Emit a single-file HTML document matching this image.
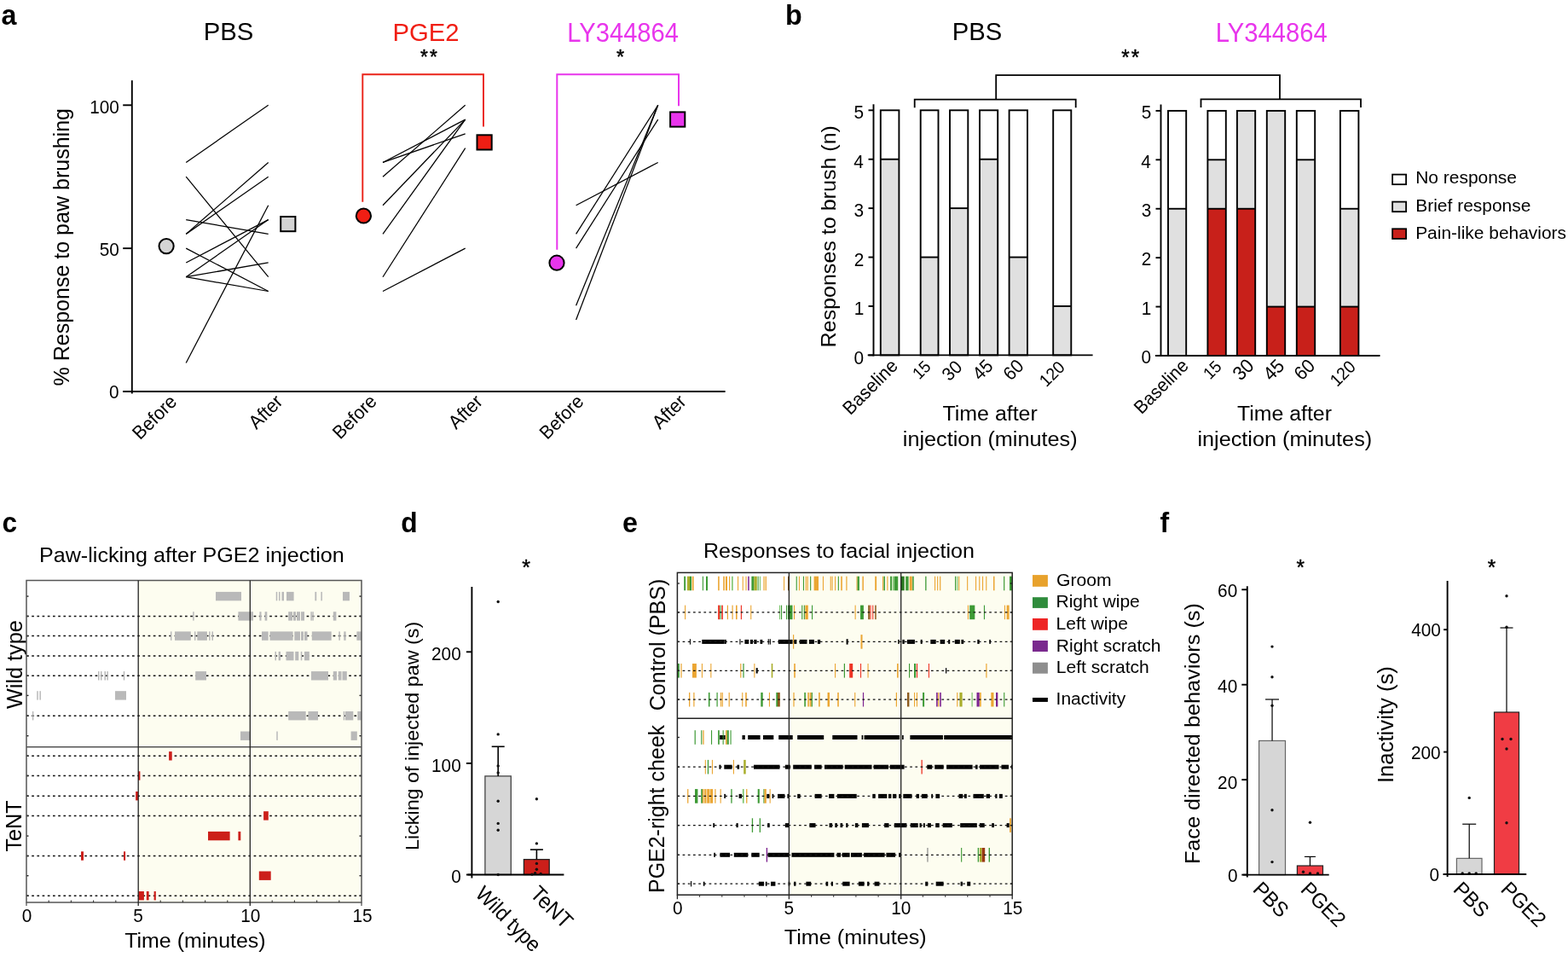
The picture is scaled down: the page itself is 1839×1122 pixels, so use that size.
<!DOCTYPE html>
<html><head><meta charset="utf-8"><title>Figure</title>
<style>
html,body{margin:0;padding:0;background:#fff;overflow:hidden;}
svg{display:block;}
svg text{font-family:'Liberation Sans', Arial, Helvetica, sans-serif;}
</style></head>
<body>
<svg width="1839" height="1122" viewBox="0 0 1839 1122">
<rect x="0" y="0" width="1839" height="1122" fill="#fff"/>
<text transform="translate(1.40 28.77) scale(1 1.050)" font-size="32.23" font-weight="bold">a</text>
<text transform="translate(921.05 28.85) scale(1 1.050)" font-size="32.27" font-weight="bold">b</text>
<text transform="translate(2.51 623.89) scale(1 1.050)" font-size="31.59" font-weight="bold">c</text>
<text transform="translate(470.29 623.95) scale(1 1.050)" font-size="31.73" font-weight="bold">d</text>
<text transform="translate(729.88 623.78) scale(1 1.050)" font-size="32.20" font-weight="bold">e</text>
<text transform="translate(1360.38 623.92) scale(1 1.050)" font-size="31.99" font-weight="bold">f</text>
<text transform="translate(238.71 47.40) scale(1 1.007)" font-size="29.30">PBS</text>
<text transform="translate(460.42 47.50) scale(1 1.008)" font-size="29.26" fill="#f01e14">PGE2</text>
<text transform="translate(665.23 48.55) scale(1 1.046)" font-size="29.17" fill="#e835ec">LY344864</text>
<text transform="translate(493.04 75.24) scale(1 1.050)" font-size="22.81" stroke="#000" stroke-width="0.45" stroke-linejoin="round" letter-spacing="2.2">**</text>
<text transform="translate(723.06 75.38) scale(1 1.050)" font-size="23.55" stroke="#000" stroke-width="0.45" stroke-linejoin="round">*</text>
<text transform="translate(105.23 132.95) scale(1 1.040)" font-size="20.80">100</text>
<text transform="translate(116.68 300.02) scale(1 1.040)" font-size="20.80">50</text>
<text transform="translate(128.10 467.00) scale(1 1.040)" font-size="20.80">0</text>
<text transform="translate(80.80 452.57) rotate(-90) scale(1 1.024)" font-size="25.04">% Response to paw brushing</text>
<text transform="translate(164.36 516.56) rotate(-45) scale(1 1.050)" font-size="21.28">Before</text>
<text transform="translate(399.05 515.91) rotate(-45) scale(1 1.050)" font-size="21.07">Before</text>
<text transform="translate(641.77 516.15) rotate(-45) scale(1 1.050)" font-size="21.11">Before</text>
<text transform="translate(300.79 504.31) rotate(-45) scale(1 1.050)" font-size="21.52">After</text>
<text transform="translate(535.09 504.31) rotate(-45) scale(1 1.050)" font-size="21.52">After</text>
<text transform="translate(773.95 504.30) rotate(-45) scale(1 1.050)" font-size="21.57">After</text>
<line x1="154.80" y1="94.30" x2="154.80" y2="461.50" stroke="#000" stroke-width="1.9"/>
<line x1="144.30" y1="459.00" x2="850.60" y2="459.00" stroke="#000" stroke-width="1.9"/>
<line x1="144.20" y1="123.30" x2="154.80" y2="123.30" stroke="#000" stroke-width="1.9"/>
<line x1="144.20" y1="291.15" x2="154.80" y2="291.15" stroke="#000" stroke-width="1.9"/>
<line x1="144.20" y1="459.00" x2="154.80" y2="459.00" stroke="#000" stroke-width="1.9"/>
<line x1="218.20" y1="190.44" x2="314.70" y2="123.30" stroke="#000" stroke-width="1.25"/>
<line x1="218.20" y1="207.22" x2="314.70" y2="324.72" stroke="#000" stroke-width="1.25"/>
<line x1="218.20" y1="274.37" x2="314.70" y2="190.44" stroke="#000" stroke-width="1.25"/>
<line x1="218.20" y1="274.37" x2="314.70" y2="207.22" stroke="#000" stroke-width="1.25"/>
<line x1="218.20" y1="257.58" x2="314.70" y2="274.37" stroke="#000" stroke-width="1.25"/>
<line x1="218.20" y1="291.15" x2="314.70" y2="341.50" stroke="#000" stroke-width="1.25"/>
<line x1="218.20" y1="307.94" x2="314.70" y2="257.58" stroke="#000" stroke-width="1.25"/>
<line x1="218.20" y1="324.72" x2="314.70" y2="257.58" stroke="#000" stroke-width="1.25"/>
<line x1="218.20" y1="324.72" x2="314.70" y2="307.94" stroke="#000" stroke-width="1.25"/>
<line x1="218.20" y1="324.72" x2="314.70" y2="341.50" stroke="#000" stroke-width="1.25"/>
<line x1="218.20" y1="425.43" x2="314.70" y2="240.79" stroke="#000" stroke-width="1.25"/>
<line x1="449.00" y1="190.44" x2="545.70" y2="140.08" stroke="#000" stroke-width="1.25"/>
<line x1="449.00" y1="190.44" x2="545.70" y2="156.87" stroke="#000" stroke-width="1.25"/>
<line x1="449.00" y1="207.22" x2="545.70" y2="123.30" stroke="#000" stroke-width="1.25"/>
<line x1="449.00" y1="240.79" x2="545.70" y2="140.08" stroke="#000" stroke-width="1.25"/>
<line x1="449.00" y1="274.37" x2="545.70" y2="140.08" stroke="#000" stroke-width="1.25"/>
<line x1="449.00" y1="324.72" x2="545.70" y2="173.65" stroke="#000" stroke-width="1.25"/>
<line x1="449.00" y1="341.50" x2="545.70" y2="291.15" stroke="#000" stroke-width="1.25"/>
<line x1="675.60" y1="240.79" x2="771.70" y2="190.44" stroke="#000" stroke-width="1.25"/>
<line x1="675.60" y1="274.37" x2="771.70" y2="123.30" stroke="#000" stroke-width="1.25"/>
<line x1="675.60" y1="291.15" x2="771.70" y2="140.08" stroke="#000" stroke-width="1.25"/>
<line x1="675.60" y1="358.29" x2="771.70" y2="123.30" stroke="#000" stroke-width="1.25"/>
<line x1="675.60" y1="375.07" x2="771.70" y2="123.30" stroke="#000" stroke-width="1.25"/>
<path d="M425.3,236.8 V87.2 H567 V148.4" stroke="#ea2218" stroke-width="1.9" fill="none"/>
<path d="M653.3,292.8 V87.2 H796 V124.3" stroke="#e835ec" stroke-width="2.0" fill="none"/>
<circle cx="195.1" cy="288.6" r="8.6" fill="#d4d4d4" stroke="#000" stroke-width="2"/>
<circle cx="426.4" cy="253" r="8.6" fill="#f01e14" stroke="#000" stroke-width="2"/>
<circle cx="653" cy="308.2" r="8.6" fill="#e835ec" stroke="#000" stroke-width="2"/>
<rect x="329.20" y="254.00" width="17.20" height="17.20" fill="#d4d4d4" stroke="#000" stroke-width="2"/>
<rect x="559.50" y="158.30" width="17.20" height="17.20" fill="#f01e14" stroke="#000" stroke-width="2"/>
<rect x="786.10" y="131.40" width="17.20" height="17.20" fill="#e835ec" stroke="#000" stroke-width="2"/>
<rect x="1032.80" y="186.72" width="21.60" height="229.68" fill="#e0e0e0"/>
<rect x="1032.80" y="129.30" width="21.60" height="57.42" fill="#ffffff"/>
<rect x="1032.80" y="129.30" width="21.60" height="287.10" fill="none" stroke="#000" stroke-width="1.9"/>
<line x1="1032.80" y1="186.72" x2="1054.40" y2="186.72" stroke="#000" stroke-width="1.9"/>
<rect x="1079.70" y="301.56" width="20.80" height="114.84" fill="#e0e0e0"/>
<rect x="1079.70" y="129.30" width="20.80" height="172.26" fill="#ffffff"/>
<rect x="1079.70" y="129.30" width="20.80" height="287.10" fill="none" stroke="#000" stroke-width="1.9"/>
<line x1="1079.70" y1="301.56" x2="1100.50" y2="301.56" stroke="#000" stroke-width="1.9"/>
<rect x="1114.00" y="244.14" width="21.30" height="172.26" fill="#e0e0e0"/>
<rect x="1114.00" y="129.30" width="21.30" height="114.84" fill="#ffffff"/>
<rect x="1114.00" y="129.30" width="21.30" height="287.10" fill="none" stroke="#000" stroke-width="1.9"/>
<line x1="1114.00" y1="244.14" x2="1135.30" y2="244.14" stroke="#000" stroke-width="1.9"/>
<rect x="1149.00" y="186.72" width="21.20" height="229.68" fill="#e0e0e0"/>
<rect x="1149.00" y="129.30" width="21.20" height="57.42" fill="#ffffff"/>
<rect x="1149.00" y="129.30" width="21.20" height="287.10" fill="none" stroke="#000" stroke-width="1.9"/>
<line x1="1149.00" y1="186.72" x2="1170.20" y2="186.72" stroke="#000" stroke-width="1.9"/>
<rect x="1183.60" y="301.56" width="21.40" height="114.84" fill="#e0e0e0"/>
<rect x="1183.60" y="129.30" width="21.40" height="172.26" fill="#ffffff"/>
<rect x="1183.60" y="129.30" width="21.40" height="287.10" fill="none" stroke="#000" stroke-width="1.9"/>
<line x1="1183.60" y1="301.56" x2="1205.00" y2="301.56" stroke="#000" stroke-width="1.9"/>
<rect x="1235.20" y="358.98" width="21.10" height="57.42" fill="#e0e0e0"/>
<rect x="1235.20" y="129.30" width="21.10" height="229.68" fill="#ffffff"/>
<rect x="1235.20" y="129.30" width="21.10" height="287.10" fill="none" stroke="#000" stroke-width="1.9"/>
<line x1="1235.20" y1="358.98" x2="1256.30" y2="358.98" stroke="#000" stroke-width="1.9"/>
<line x1="1024.50" y1="122.30" x2="1024.50" y2="417.40" stroke="#000" stroke-width="1.9"/>
<line x1="1017.70" y1="416.40" x2="1281.60" y2="416.40" stroke="#000" stroke-width="1.9"/>
<line x1="1018.50" y1="416.40" x2="1024.50" y2="416.40" stroke="#000" stroke-width="1.9"/>
<line x1="1018.50" y1="358.98" x2="1024.50" y2="358.98" stroke="#000" stroke-width="1.9"/>
<line x1="1018.50" y1="301.56" x2="1024.50" y2="301.56" stroke="#000" stroke-width="1.9"/>
<line x1="1018.50" y1="244.14" x2="1024.50" y2="244.14" stroke="#000" stroke-width="1.9"/>
<line x1="1018.50" y1="186.72" x2="1024.50" y2="186.72" stroke="#000" stroke-width="1.9"/>
<line x1="1018.50" y1="129.30" x2="1024.50" y2="129.30" stroke="#000" stroke-width="1.9"/>
<rect x="1370.00" y="244.74" width="21.20" height="172.26" fill="#e0e0e0"/>
<rect x="1370.00" y="129.90" width="21.20" height="114.84" fill="#ffffff"/>
<rect x="1370.00" y="129.90" width="21.20" height="287.10" fill="none" stroke="#000" stroke-width="1.9"/>
<line x1="1370.00" y1="244.74" x2="1391.20" y2="244.74" stroke="#000" stroke-width="1.9"/>
<rect x="1416.40" y="244.74" width="21.40" height="172.26" fill="#c8201a"/>
<rect x="1416.40" y="187.32" width="21.40" height="57.42" fill="#e0e0e0"/>
<rect x="1416.40" y="129.90" width="21.40" height="57.42" fill="#ffffff"/>
<rect x="1416.40" y="129.90" width="21.40" height="287.10" fill="none" stroke="#000" stroke-width="1.9"/>
<line x1="1416.40" y1="244.74" x2="1437.80" y2="244.74" stroke="#000" stroke-width="1.9"/>
<line x1="1416.40" y1="187.32" x2="1437.80" y2="187.32" stroke="#000" stroke-width="1.9"/>
<rect x="1450.90" y="244.74" width="21.30" height="172.26" fill="#c8201a"/>
<rect x="1450.90" y="129.90" width="21.30" height="114.84" fill="#e0e0e0"/>
<rect x="1450.90" y="129.90" width="21.30" height="287.10" fill="none" stroke="#000" stroke-width="1.9"/>
<line x1="1450.90" y1="244.74" x2="1472.20" y2="244.74" stroke="#000" stroke-width="1.9"/>
<rect x="1485.80" y="359.58" width="21.40" height="57.42" fill="#c8201a"/>
<rect x="1485.80" y="129.90" width="21.40" height="229.68" fill="#e0e0e0"/>
<rect x="1485.80" y="129.90" width="21.40" height="287.10" fill="none" stroke="#000" stroke-width="1.9"/>
<line x1="1485.80" y1="359.58" x2="1507.20" y2="359.58" stroke="#000" stroke-width="1.9"/>
<rect x="1520.80" y="359.58" width="21.40" height="57.42" fill="#c8201a"/>
<rect x="1520.80" y="187.32" width="21.40" height="172.26" fill="#e0e0e0"/>
<rect x="1520.80" y="129.90" width="21.40" height="57.42" fill="#ffffff"/>
<rect x="1520.80" y="129.90" width="21.40" height="287.10" fill="none" stroke="#000" stroke-width="1.9"/>
<line x1="1520.80" y1="359.58" x2="1542.20" y2="359.58" stroke="#000" stroke-width="1.9"/>
<line x1="1520.80" y1="187.32" x2="1542.20" y2="187.32" stroke="#000" stroke-width="1.9"/>
<rect x="1571.90" y="359.58" width="21.50" height="57.42" fill="#c8201a"/>
<rect x="1571.90" y="244.74" width="21.50" height="114.84" fill="#e0e0e0"/>
<rect x="1571.90" y="129.90" width="21.50" height="114.84" fill="#ffffff"/>
<rect x="1571.90" y="129.90" width="21.50" height="287.10" fill="none" stroke="#000" stroke-width="1.9"/>
<line x1="1571.90" y1="359.58" x2="1593.40" y2="359.58" stroke="#000" stroke-width="1.9"/>
<line x1="1571.90" y1="244.74" x2="1593.40" y2="244.74" stroke="#000" stroke-width="1.9"/>
<line x1="1361.50" y1="122.40" x2="1361.50" y2="418.00" stroke="#000" stroke-width="1.9"/>
<line x1="1355.00" y1="417.00" x2="1618.50" y2="417.00" stroke="#000" stroke-width="1.9"/>
<line x1="1355.50" y1="417.00" x2="1361.50" y2="417.00" stroke="#000" stroke-width="1.9"/>
<line x1="1355.50" y1="359.58" x2="1361.50" y2="359.58" stroke="#000" stroke-width="1.9"/>
<line x1="1355.50" y1="302.16" x2="1361.50" y2="302.16" stroke="#000" stroke-width="1.9"/>
<line x1="1355.50" y1="244.74" x2="1361.50" y2="244.74" stroke="#000" stroke-width="1.9"/>
<line x1="1355.50" y1="187.32" x2="1361.50" y2="187.32" stroke="#000" stroke-width="1.9"/>
<line x1="1355.50" y1="129.90" x2="1361.50" y2="129.90" stroke="#000" stroke-width="1.9"/>
<text transform="translate(1116.64 47.40) scale(1 1.027)" font-size="29.25">PBS</text>
<text transform="translate(1425.69 48.70) scale(1 1.042)" font-size="29.22" fill="#e835ec">LY344864</text>
<text transform="translate(1315.13 76.34) scale(1 1.050)" font-size="24.16" stroke="#000" stroke-width="0.45" stroke-linejoin="round" letter-spacing="2.2">**</text>
<text transform="translate(979.85 407.53) rotate(-90) scale(1 0.970)" font-size="25.07">Responses to brush (n)</text>
<text transform="translate(997.27 487.41) rotate(-45) scale(1 1.050)" font-size="21.05">Baseline</text>
<text transform="translate(1078.25 445.87) rotate(-45) scale(1 1.050)" font-size="18.68">15</text>
<text transform="translate(1113.59 447.84) rotate(-45) scale(1 1.050)" font-size="20.55">30</text>
<text transform="translate(1149.55 447.04) rotate(-45) scale(1 1.050)" font-size="20.95">45</text>
<text transform="translate(1185.38 447.15) rotate(-45) scale(1 1.050)" font-size="21.07">60</text>
<text transform="translate(1227.35 454.60) rotate(-45) scale(1 1.050)" font-size="19.30">120</text>
<text transform="translate(1338.81 486.38) rotate(-45) scale(1 1.050)" font-size="20.75">Baseline</text>
<text transform="translate(1419.15 445.87) rotate(-45) scale(1 1.050)" font-size="18.68">15</text>
<text transform="translate(1455.06 447.35) rotate(-45) scale(1 1.050)" font-size="21.71">30</text>
<text transform="translate(1490.64 447.41) rotate(-45) scale(1 1.050)" font-size="21.62">45</text>
<text transform="translate(1526.86 447.01) rotate(-45) scale(1 1.050)" font-size="21.33">60</text>
<text transform="translate(1568.17 454.31) rotate(-45) scale(1 1.050)" font-size="19.53">120</text>
<text transform="translate(1105.43 493.35) scale(1 0.970)" font-size="24.97">Time after</text>
<text transform="translate(1450.97 493.35) scale(1 0.970)" font-size="24.88">Time after</text>
<text transform="translate(1058.81 523.10) scale(1 0.982)" font-size="25.26">injection (minutes)</text>
<text transform="translate(1404.43 523.10) scale(1 0.983)" font-size="25.25">injection (minutes)</text>
<text transform="translate(1660.20 215.40) scale(1 1.002)" font-size="20.96">No response</text>
<text transform="translate(1660.21 247.90) scale(1 0.970)" font-size="20.98">Brief response</text>
<text transform="translate(1660.16 279.90) scale(1 0.970)" font-size="20.95">Pain-like behaviors</text>
<text transform="translate(1001.50 426.50) scale(1 1.040)" font-size="20.80">0</text>
<text transform="translate(1338.60 426.30) scale(1 1.040)" font-size="20.80">0</text>
<text transform="translate(1001.66 369.08) scale(1 1.040)" font-size="20.80">1</text>
<text transform="translate(1338.76 368.88) scale(1 1.040)" font-size="20.80">1</text>
<text transform="translate(1001.69 311.63) scale(1 1.040)" font-size="20.80">2</text>
<text transform="translate(1338.79 311.43) scale(1 1.040)" font-size="20.80">2</text>
<text transform="translate(1001.61 254.24) scale(1 1.040)" font-size="20.80">3</text>
<text transform="translate(1338.71 254.04) scale(1 1.040)" font-size="20.80">3</text>
<text transform="translate(1001.26 196.86) scale(1 1.040)" font-size="20.80">4</text>
<text transform="translate(1338.36 196.66) scale(1 1.040)" font-size="20.80">4</text>
<text transform="translate(1001.58 139.42) scale(1 1.040)" font-size="20.80">5</text>
<text transform="translate(1338.68 139.22) scale(1 1.040)" font-size="20.80">5</text>
<path d="M1072.7,126.2 V116.6 H1261.7 V126.2" stroke="#000" stroke-width="1.8" fill="none"/>
<path d="M1168.2,116.6 V88.2 H1501 V116.4" stroke="#000" stroke-width="1.8" fill="none"/>
<path d="M1408.5,126 V116.4 H1596 V126" stroke="#000" stroke-width="1.8" fill="none"/>
<rect x="1633.10" y="204.60" width="16.00" height="11.60" fill="#ffffff" stroke="#000" stroke-width="1.8"/>
<rect x="1633.10" y="236.60" width="16.00" height="11.60" fill="#e0e0e0" stroke="#000" stroke-width="1.8"/>
<rect x="1633.10" y="268.30" width="16.00" height="11.60" fill="#c8201a" stroke="#000" stroke-width="1.8"/>
<rect x="162.20" y="680.50" width="261.80" height="377.50" fill="#fdfdf0"/>
<text transform="translate(45.89 659.15) scale(1 0.970)" font-size="25.17">Paw-licking after PGE2 injection</text>
<text transform="translate(25.80 830.99) rotate(-90) scale(1 1.034)" font-size="25.23">Wild type</text>
<text transform="translate(24.80 998.55) rotate(-90) scale(1 1.023)" font-size="25.23">TeNT</text>
<text transform="translate(25.63 1081.45) scale(1 1.040)" font-size="20.80">0</text>
<text transform="translate(156.22 1081.47) scale(1 1.040)" font-size="20.80">5</text>
<text transform="translate(282.15 1081.45) scale(1 1.040)" font-size="20.80">10</text>
<text transform="translate(413.44 1081.45) scale(1 1.040)" font-size="20.80">15</text>
<text transform="translate(146.21 1111.30) scale(1 0.970)" font-size="24.97">Time (minutes)</text>
<line x1="31.00" y1="722.40" x2="424.00" y2="722.40" stroke="#111" stroke-width="1.5" stroke-dasharray="2.7 3.5"/>
<line x1="31.00" y1="745.60" x2="424.00" y2="745.60" stroke="#111" stroke-width="1.5" stroke-dasharray="2.7 3.5"/>
<line x1="31.00" y1="769.10" x2="424.00" y2="769.10" stroke="#111" stroke-width="1.5" stroke-dasharray="2.7 3.5"/>
<line x1="31.00" y1="792.30" x2="424.00" y2="792.30" stroke="#111" stroke-width="1.5" stroke-dasharray="2.7 3.5"/>
<line x1="31.00" y1="839.20" x2="424.00" y2="839.20" stroke="#111" stroke-width="1.5" stroke-dasharray="2.7 3.5"/>
<line x1="31.00" y1="886.30" x2="424.00" y2="886.30" stroke="#111" stroke-width="1.5" stroke-dasharray="2.7 3.5"/>
<line x1="31.00" y1="909.50" x2="424.00" y2="909.50" stroke="#111" stroke-width="1.5" stroke-dasharray="2.7 3.5"/>
<line x1="31.00" y1="933.20" x2="424.00" y2="933.20" stroke="#111" stroke-width="1.5" stroke-dasharray="2.7 3.5"/>
<line x1="31.00" y1="956.40" x2="424.00" y2="956.40" stroke="#111" stroke-width="1.5" stroke-dasharray="2.7 3.5"/>
<line x1="31.00" y1="1003.50" x2="424.00" y2="1003.50" stroke="#111" stroke-width="1.5" stroke-dasharray="2.7 3.5"/>
<line x1="31.00" y1="1050.20" x2="424.00" y2="1050.20" stroke="#111" stroke-width="1.5" stroke-dasharray="2.7 3.5"/>
<line x1="31.00" y1="699.10" x2="33.50" y2="699.10" stroke="#222" stroke-width="1.4"/>
<line x1="421.50" y1="699.10" x2="424.00" y2="699.10" stroke="#222" stroke-width="1.4"/>
<line x1="31.00" y1="722.40" x2="33.50" y2="722.40" stroke="#222" stroke-width="1.4"/>
<line x1="421.50" y1="722.40" x2="424.00" y2="722.40" stroke="#222" stroke-width="1.4"/>
<line x1="31.00" y1="745.60" x2="33.50" y2="745.60" stroke="#222" stroke-width="1.4"/>
<line x1="421.50" y1="745.60" x2="424.00" y2="745.60" stroke="#222" stroke-width="1.4"/>
<line x1="31.00" y1="769.10" x2="33.50" y2="769.10" stroke="#222" stroke-width="1.4"/>
<line x1="421.50" y1="769.10" x2="424.00" y2="769.10" stroke="#222" stroke-width="1.4"/>
<line x1="31.00" y1="792.30" x2="33.50" y2="792.30" stroke="#222" stroke-width="1.4"/>
<line x1="421.50" y1="792.30" x2="424.00" y2="792.30" stroke="#222" stroke-width="1.4"/>
<line x1="31.00" y1="815.40" x2="33.50" y2="815.40" stroke="#222" stroke-width="1.4"/>
<line x1="421.50" y1="815.40" x2="424.00" y2="815.40" stroke="#222" stroke-width="1.4"/>
<line x1="31.00" y1="839.20" x2="33.50" y2="839.20" stroke="#222" stroke-width="1.4"/>
<line x1="421.50" y1="839.20" x2="424.00" y2="839.20" stroke="#222" stroke-width="1.4"/>
<line x1="31.00" y1="862.70" x2="33.50" y2="862.70" stroke="#222" stroke-width="1.4"/>
<line x1="421.50" y1="862.70" x2="424.00" y2="862.70" stroke="#222" stroke-width="1.4"/>
<line x1="31.00" y1="886.30" x2="33.50" y2="886.30" stroke="#222" stroke-width="1.4"/>
<line x1="421.50" y1="886.30" x2="424.00" y2="886.30" stroke="#222" stroke-width="1.4"/>
<line x1="31.00" y1="909.50" x2="33.50" y2="909.50" stroke="#222" stroke-width="1.4"/>
<line x1="421.50" y1="909.50" x2="424.00" y2="909.50" stroke="#222" stroke-width="1.4"/>
<line x1="31.00" y1="933.20" x2="33.50" y2="933.20" stroke="#222" stroke-width="1.4"/>
<line x1="421.50" y1="933.20" x2="424.00" y2="933.20" stroke="#222" stroke-width="1.4"/>
<line x1="31.00" y1="956.40" x2="33.50" y2="956.40" stroke="#222" stroke-width="1.4"/>
<line x1="421.50" y1="956.40" x2="424.00" y2="956.40" stroke="#222" stroke-width="1.4"/>
<line x1="31.00" y1="980.10" x2="33.50" y2="980.10" stroke="#222" stroke-width="1.4"/>
<line x1="421.50" y1="980.10" x2="424.00" y2="980.10" stroke="#222" stroke-width="1.4"/>
<line x1="31.00" y1="1003.50" x2="33.50" y2="1003.50" stroke="#222" stroke-width="1.4"/>
<line x1="421.50" y1="1003.50" x2="424.00" y2="1003.50" stroke="#222" stroke-width="1.4"/>
<line x1="31.00" y1="1026.70" x2="33.50" y2="1026.70" stroke="#222" stroke-width="1.4"/>
<line x1="421.50" y1="1026.70" x2="424.00" y2="1026.70" stroke="#222" stroke-width="1.4"/>
<line x1="31.00" y1="1050.20" x2="33.50" y2="1050.20" stroke="#222" stroke-width="1.4"/>
<line x1="421.50" y1="1050.20" x2="424.00" y2="1050.20" stroke="#222" stroke-width="1.4"/>
<rect x="253.00" y="693.90" width="30.00" height="10.40" fill="#b9b9b9"/>
<rect x="323.75" y="693.90" width="1.50" height="10.40" fill="#b9b9b9"/>
<rect x="327.00" y="693.90" width="1.50" height="10.40" fill="#b9b9b9"/>
<rect x="330.50" y="693.90" width="2.50" height="10.40" fill="#b9b9b9"/>
<rect x="336.00" y="693.90" width="8.60" height="10.40" fill="#b9b9b9"/>
<rect x="369.40" y="693.90" width="1.80" height="10.40" fill="#b9b9b9"/>
<rect x="376.40" y="693.90" width="1.50" height="10.40" fill="#b9b9b9"/>
<rect x="402.00" y="693.90" width="8.00" height="10.40" fill="#b9b9b9"/>
<rect x="226.15" y="717.20" width="1.50" height="10.40" fill="#b9b9b9"/>
<rect x="279.40" y="717.20" width="17.50" height="10.40" fill="#b9b9b9"/>
<rect x="304.40" y="717.20" width="2.10" height="10.40" fill="#b9b9b9"/>
<rect x="310.60" y="717.20" width="2.70" height="10.40" fill="#b9b9b9"/>
<rect x="338.20" y="717.20" width="4.80" height="10.40" fill="#b9b9b9"/>
<rect x="344.00" y="717.20" width="3.00" height="10.40" fill="#b9b9b9"/>
<rect x="348.00" y="717.20" width="4.00" height="10.40" fill="#b9b9b9"/>
<rect x="353.00" y="717.20" width="4.00" height="10.40" fill="#b9b9b9"/>
<rect x="364.35" y="717.20" width="1.50" height="10.40" fill="#b9b9b9"/>
<rect x="366.30" y="717.20" width="1.50" height="10.40" fill="#b9b9b9"/>
<rect x="390.80" y="717.20" width="3.60" height="10.40" fill="#b9b9b9"/>
<rect x="199.95" y="740.40" width="1.50" height="10.40" fill="#b9b9b9"/>
<rect x="205.00" y="740.40" width="18.80" height="10.40" fill="#b9b9b9"/>
<rect x="227.95" y="740.40" width="1.50" height="10.40" fill="#b9b9b9"/>
<rect x="231.30" y="740.40" width="11.60" height="10.40" fill="#b9b9b9"/>
<rect x="245.05" y="740.40" width="1.50" height="10.40" fill="#b9b9b9"/>
<rect x="248.50" y="740.40" width="1.50" height="10.40" fill="#b9b9b9"/>
<rect x="307.00" y="740.40" width="7.70" height="10.40" fill="#b9b9b9"/>
<rect x="316.50" y="740.40" width="27.10" height="10.40" fill="#b9b9b9"/>
<rect x="345.30" y="740.40" width="6.70" height="10.40" fill="#b9b9b9"/>
<rect x="353.00" y="740.40" width="3.00" height="10.40" fill="#b9b9b9"/>
<rect x="357.00" y="740.40" width="3.50" height="10.40" fill="#b9b9b9"/>
<rect x="365.80" y="740.40" width="22.90" height="10.40" fill="#b9b9b9"/>
<rect x="397.35" y="740.40" width="1.50" height="10.40" fill="#b9b9b9"/>
<rect x="403.30" y="740.40" width="2.30" height="10.40" fill="#b9b9b9"/>
<rect x="418.40" y="740.40" width="5.60" height="10.40" fill="#b9b9b9"/>
<rect x="322.50" y="763.90" width="1.50" height="10.40" fill="#b9b9b9"/>
<rect x="326.60" y="763.90" width="2.40" height="10.40" fill="#b9b9b9"/>
<rect x="335.50" y="763.90" width="9.00" height="10.40" fill="#b9b9b9"/>
<rect x="346.20" y="763.90" width="4.10" height="10.40" fill="#b9b9b9"/>
<rect x="352.75" y="763.90" width="1.50" height="10.40" fill="#b9b9b9"/>
<rect x="357.00" y="763.90" width="5.80" height="10.40" fill="#b9b9b9"/>
<rect x="115.00" y="787.10" width="1.50" height="10.40" fill="#b9b9b9"/>
<rect x="118.00" y="787.10" width="1.50" height="10.40" fill="#b9b9b9"/>
<rect x="122.50" y="787.10" width="1.50" height="10.40" fill="#b9b9b9"/>
<rect x="125.35" y="787.10" width="1.50" height="10.40" fill="#b9b9b9"/>
<rect x="144.75" y="787.10" width="1.50" height="10.40" fill="#b9b9b9"/>
<rect x="229.20" y="787.10" width="12.80" height="10.40" fill="#b9b9b9"/>
<rect x="365.00" y="787.10" width="20.00" height="10.40" fill="#b9b9b9"/>
<rect x="390.80" y="787.10" width="4.20" height="10.40" fill="#b9b9b9"/>
<rect x="396.80" y="787.10" width="3.70" height="10.40" fill="#b9b9b9"/>
<rect x="401.50" y="787.10" width="5.30" height="10.40" fill="#b9b9b9"/>
<rect x="43.25" y="810.20" width="1.50" height="10.40" fill="#b9b9b9"/>
<rect x="46.40" y="810.20" width="1.50" height="10.40" fill="#b9b9b9"/>
<rect x="135.00" y="810.20" width="13.00" height="10.40" fill="#b9b9b9"/>
<rect x="37.85" y="834.00" width="1.50" height="10.40" fill="#b9b9b9"/>
<rect x="338.20" y="834.00" width="20.50" height="10.40" fill="#b9b9b9"/>
<rect x="361.40" y="834.00" width="11.60" height="10.40" fill="#b9b9b9"/>
<rect x="402.75" y="834.00" width="1.50" height="10.40" fill="#b9b9b9"/>
<rect x="405.00" y="834.00" width="9.30" height="10.40" fill="#b9b9b9"/>
<rect x="419.30" y="834.00" width="4.70" height="10.40" fill="#b9b9b9"/>
<rect x="282.00" y="857.50" width="11.30" height="10.40" fill="#b9b9b9"/>
<rect x="324.25" y="857.50" width="1.50" height="10.40" fill="#b9b9b9"/>
<rect x="411.60" y="857.50" width="7.20" height="10.40" fill="#b9b9b9"/>
<rect x="198.10" y="881.10" width="3.60" height="10.40" fill="#cc1f1a"/>
<rect x="162.00" y="904.30" width="2.40" height="10.40" fill="#cc1f1a"/>
<rect x="159.10" y="928.00" width="2.90" height="10.40" fill="#cc1f1a"/>
<rect x="309.10" y="951.20" width="5.70" height="10.40" fill="#cc1f1a"/>
<rect x="244.00" y="974.90" width="25.60" height="10.40" fill="#cc1f1a"/>
<rect x="279.40" y="974.90" width="2.90" height="10.40" fill="#cc1f1a"/>
<rect x="95.00" y="998.30" width="3.00" height="10.40" fill="#cc1f1a"/>
<rect x="145.00" y="998.30" width="2.10" height="10.40" fill="#cc1f1a"/>
<rect x="303.80" y="1021.50" width="13.90" height="10.40" fill="#cc1f1a"/>
<rect x="162.20" y="1045.00" width="6.70" height="10.40" fill="#cc1f1a"/>
<rect x="171.80" y="1045.00" width="2.80" height="10.40" fill="#cc1f1a"/>
<rect x="180.60" y="1045.00" width="2.20" height="10.40" fill="#cc1f1a"/>
<rect x="31.00" y="680.50" width="393.00" height="377.50" fill="none" stroke="#555" stroke-width="1.5"/>
<line x1="31.00" y1="875.80" x2="424.00" y2="875.80" stroke="#555" stroke-width="1.6"/>
<line x1="162.20" y1="680.50" x2="162.20" y2="1062.00" stroke="#222" stroke-width="1.3"/>
<line x1="293.30" y1="680.50" x2="293.30" y2="1062.00" stroke="#222" stroke-width="1.3"/>
<line x1="31.00" y1="1058.00" x2="31.00" y2="1062.00" stroke="#555" stroke-width="1.3"/>
<line x1="424.00" y1="1058.00" x2="424.00" y2="1062.00" stroke="#555" stroke-width="1.3"/>
<line x1="57.20" y1="1058.00" x2="57.20" y2="1055.50" stroke="#333" stroke-width="1.1"/>
<line x1="83.40" y1="1058.00" x2="83.40" y2="1055.50" stroke="#333" stroke-width="1.1"/>
<line x1="109.60" y1="1058.00" x2="109.60" y2="1055.50" stroke="#333" stroke-width="1.1"/>
<line x1="135.80" y1="1058.00" x2="135.80" y2="1055.50" stroke="#333" stroke-width="1.1"/>
<line x1="188.20" y1="1058.00" x2="188.20" y2="1055.50" stroke="#333" stroke-width="1.1"/>
<line x1="214.40" y1="1058.00" x2="214.40" y2="1055.50" stroke="#333" stroke-width="1.1"/>
<line x1="240.60" y1="1058.00" x2="240.60" y2="1055.50" stroke="#333" stroke-width="1.1"/>
<line x1="266.80" y1="1058.00" x2="266.80" y2="1055.50" stroke="#333" stroke-width="1.1"/>
<line x1="319.20" y1="1058.00" x2="319.20" y2="1055.50" stroke="#333" stroke-width="1.1"/>
<line x1="345.40" y1="1058.00" x2="345.40" y2="1055.50" stroke="#333" stroke-width="1.1"/>
<line x1="371.60" y1="1058.00" x2="371.60" y2="1055.50" stroke="#333" stroke-width="1.1"/>
<line x1="397.80" y1="1058.00" x2="397.80" y2="1055.50" stroke="#333" stroke-width="1.1"/>
<text transform="translate(612.16 674.02) scale(1 1.050)" font-size="25.02" stroke="#000" stroke-width="0.45" stroke-linejoin="round">*</text>
<text transform="translate(490.95 997.01) rotate(-90) scale(1 0.970)" font-size="23.32">Licking of injected paw (s)</text>
<text transform="translate(506.03 774.02) scale(1 1.040)" font-size="20.80">200</text>
<text transform="translate(506.03 904.60) scale(1 1.040)" font-size="20.80">100</text>
<text transform="translate(529.30 1035.05) scale(1 1.040)" font-size="20.80">0</text>
<text transform="translate(556.14 1049.16) rotate(45) scale(1 1.050)" font-size="23.53">Wild type</text>
<text transform="translate(620.43 1049.31) rotate(45) scale(1 1.050)" font-size="24.29">TeNT</text>
<rect x="568.90" y="909.92" width="30.40" height="115.58" fill="#d6d6d6" stroke="#444" stroke-width="1.3"/>
<rect x="614.40" y="1007.61" width="29.80" height="17.89" fill="#cc1f1a" stroke="#222" stroke-width="1.3"/>
<line x1="553.40" y1="688.00" x2="553.40" y2="1029.50" stroke="#000" stroke-width="1.9"/>
<line x1="548.60" y1="1025.50" x2="661.40" y2="1025.50" stroke="#000" stroke-width="1.9"/>
<line x1="546.90" y1="1025.50" x2="553.40" y2="1025.50" stroke="#000" stroke-width="1.9"/>
<line x1="546.90" y1="894.90" x2="553.40" y2="894.90" stroke="#000" stroke-width="1.9"/>
<line x1="546.90" y1="764.30" x2="553.40" y2="764.30" stroke="#000" stroke-width="1.9"/>
<line x1="584.20" y1="909.92" x2="584.20" y2="875.31" stroke="#000" stroke-width="1.6"/>
<line x1="576.70" y1="875.31" x2="591.70" y2="875.31" stroke="#000" stroke-width="1.6"/>
<line x1="629.40" y1="1007.61" x2="629.40" y2="996.12" stroke="#000" stroke-width="1.6"/>
<line x1="621.90" y1="996.12" x2="636.90" y2="996.12" stroke="#000" stroke-width="1.6"/>
<circle cx="584.2" cy="705.5" r="1.7" fill="#111"/>
<circle cx="584.2" cy="860.9" r="1.7" fill="#111"/>
<circle cx="584.2" cy="897.9" r="1.7" fill="#111"/>
<circle cx="584.2" cy="906.0" r="1.7" fill="#111"/>
<circle cx="584.2" cy="939.3" r="1.7" fill="#111"/>
<circle cx="584.2" cy="965.4" r="1.7" fill="#111"/>
<circle cx="584.2" cy="973.3" r="1.7" fill="#111"/>
<circle cx="584.2" cy="1025.5" r="1.7" fill="#111"/>
<circle cx="629.4" cy="936.7" r="1.7" fill="#111"/>
<circle cx="629.4" cy="988.9" r="1.7" fill="#111"/>
<circle cx="629.4" cy="1012.4" r="1.7" fill="#111"/>
<circle cx="629.4" cy="1019.2" r="1.7" fill="#111"/>
<circle cx="627.6" cy="1023.7" r="1.7" fill="#111"/>
<circle cx="634.2" cy="1024.5" r="1.7" fill="#111"/>
<circle cx="624" cy="1025.1" r="1.7" fill="#111"/>
<rect x="925.40" y="671.40" width="261.80" height="377.80" fill="#fdfdf0"/>
<rect x="802.2" y="675.7" width="1.9" height="16.6" fill="#3d9a35"/>
<rect x="806.0" y="675.7" width="3.0" height="16.6" fill="#a9ae2c"/>
<rect x="809.0" y="675.7" width="2.0" height="16.6" fill="#3d9a35"/>
<rect x="811.7" y="675.7" width="1.9" height="16.6" fill="#eba633"/>
<rect x="823.9" y="675.7" width="1.1" height="16.6" fill="#3d9a35"/>
<rect x="828.0" y="675.7" width="2.0" height="16.6" fill="#3d9a35"/>
<rect x="842.1" y="675.7" width="1.6" height="16.6" fill="#eba633"/>
<rect x="848.2" y="675.7" width="1.6" height="16.6" fill="#eba633"/>
<rect x="850.9" y="675.7" width="2.1" height="16.6" fill="#eba633"/>
<rect x="855.0" y="675.7" width="1.2" height="16.6" fill="#eba633"/>
<rect x="858.1" y="675.7" width="1.6" height="16.6" fill="#7cc46c"/>
<rect x="865.0" y="675.7" width="1.1" height="16.6" fill="#eba633"/>
<rect x="870.7" y="675.7" width="1.1" height="16.6" fill="#eba633"/>
<rect x="874.5" y="675.7" width="1.1" height="16.6" fill="#eba633"/>
<rect x="877.2" y="675.7" width="1.5" height="16.6" fill="#7d2490"/>
<rect x="881.4" y="675.7" width="3.0" height="16.6" fill="#3d9a35"/>
<rect x="884.4" y="675.7" width="3.4" height="16.6" fill="#a9ae2c"/>
<rect x="888.6" y="675.7" width="1.1" height="16.6" fill="#3d9a35"/>
<rect x="890.9" y="675.7" width="1.1" height="16.6" fill="#7cc46c"/>
<rect x="895.4" y="675.7" width="1.2" height="16.6" fill="#eba633"/>
<rect x="897.6" y="675.7" width="1.3" height="16.6" fill="#eba633"/>
<rect x="919.0" y="675.7" width="1.1" height="16.6" fill="#eba633"/>
<rect x="924.0" y="675.7" width="1.7" height="16.6" fill="#8c5a1c"/>
<rect x="933.7" y="675.7" width="1.1" height="16.6" fill="#3d9a35"/>
<rect x="936.9" y="675.7" width="1.1" height="16.6" fill="#eba633"/>
<rect x="941.9" y="675.7" width="1.1" height="16.6" fill="#3d9a35"/>
<rect x="944.7" y="675.7" width="1.1" height="16.6" fill="#eba633"/>
<rect x="946.6" y="675.7" width="1.2" height="16.6" fill="#eba633"/>
<rect x="950.1" y="675.7" width="1.1" height="16.6" fill="#3d9a35"/>
<rect x="954.6" y="675.7" width="5.4" height="16.6" fill="#eba633"/>
<rect x="964.9" y="675.7" width="1.1" height="16.6" fill="#eba633"/>
<rect x="973.7" y="675.7" width="1.1" height="16.6" fill="#eba633"/>
<rect x="975.6" y="675.7" width="1.1" height="16.6" fill="#eba633"/>
<rect x="979.0" y="675.7" width="1.1" height="16.6" fill="#eba633"/>
<rect x="982.8" y="675.7" width="1.1" height="16.6" fill="#3d9a35"/>
<rect x="986.2" y="675.7" width="1.6" height="16.6" fill="#eba633"/>
<rect x="992.3" y="675.7" width="1.2" height="16.6" fill="#eba633"/>
<rect x="1004.5" y="675.7" width="1.1" height="16.6" fill="#eba633"/>
<rect x="1005.6" y="675.7" width="2.3" height="16.6" fill="#3d9a35"/>
<rect x="1011.4" y="675.7" width="1.5" height="16.6" fill="#eba633"/>
<rect x="1026.2" y="675.7" width="1.9" height="16.6" fill="#eba633"/>
<rect x="1035.0" y="675.7" width="1.1" height="16.6" fill="#eba633"/>
<rect x="1036.5" y="675.7" width="1.5" height="16.6" fill="#3d9a35"/>
<rect x="1040.3" y="675.7" width="1.1" height="16.6" fill="#eba633"/>
<rect x="1044.1" y="675.7" width="1.9" height="16.6" fill="#3d9a35"/>
<rect x="1046.8" y="675.7" width="1.2" height="16.6" fill="#7cc46c"/>
<rect x="1048.5" y="675.7" width="4.7" height="16.6" fill="#3d9a35"/>
<rect x="1056.3" y="675.7" width="4.4" height="16.6" fill="#2a7a20"/>
<rect x="1062.2" y="675.7" width="3.4" height="16.6" fill="#3d9a35"/>
<rect x="1066.7" y="675.7" width="3.1" height="16.6" fill="#eba633"/>
<rect x="1070.2" y="675.7" width="1.5" height="16.6" fill="#3d9a35"/>
<rect x="1085.2" y="675.7" width="1.3" height="16.6" fill="#3d9a35"/>
<rect x="1096.0" y="675.7" width="1.1" height="16.6" fill="#eba633"/>
<rect x="1099.1" y="675.7" width="1.1" height="16.6" fill="#eba633"/>
<rect x="1102.1" y="675.7" width="1.2" height="16.6" fill="#eba633"/>
<rect x="1120.0" y="675.7" width="1.2" height="16.6" fill="#3d9a35"/>
<rect x="1122.3" y="675.7" width="1.1" height="16.6" fill="#7cc46c"/>
<rect x="1124.2" y="675.7" width="1.1" height="16.6" fill="#eba633"/>
<rect x="1134.1" y="675.7" width="1.1" height="16.6" fill="#eba633"/>
<rect x="1144.0" y="675.7" width="1.1" height="16.6" fill="#eba633"/>
<rect x="1148.2" y="675.7" width="1.1" height="16.6" fill="#eba633"/>
<rect x="1152.0" y="675.7" width="1.1" height="16.6" fill="#eba633"/>
<rect x="1156.2" y="675.7" width="1.1" height="16.6" fill="#eba633"/>
<rect x="1165.0" y="675.7" width="1.5" height="16.6" fill="#eba633"/>
<rect x="1177.1" y="675.7" width="1.2" height="16.6" fill="#3d9a35"/>
<rect x="1184.0" y="675.7" width="3.0" height="16.6" fill="#3d9a35"/>
<rect x="803.0" y="709.6" width="1.1" height="16.6" fill="#eba633"/>
<rect x="842.1" y="709.6" width="1.9" height="16.6" fill="#ee3526"/>
<rect x="844.4" y="709.6" width="1.1" height="16.6" fill="#3d9a35"/>
<rect x="846.3" y="709.6" width="1.6" height="16.6" fill="#ee3526"/>
<rect x="852.8" y="709.6" width="1.2" height="16.6" fill="#eba633"/>
<rect x="858.5" y="709.6" width="1.2" height="16.6" fill="#eba633"/>
<rect x="863.0" y="709.6" width="1.6" height="16.6" fill="#eba633"/>
<rect x="868.8" y="709.6" width="1.2" height="16.6" fill="#ee3526"/>
<rect x="880.2" y="709.6" width="1.1" height="16.6" fill="#eba633"/>
<rect x="914.0" y="709.6" width="1.1" height="16.6" fill="#7cc46c"/>
<rect x="916.0" y="709.6" width="1.1" height="16.6" fill="#3d9a35"/>
<rect x="922.0" y="709.6" width="1.1" height="16.6" fill="#3d9a35"/>
<rect x="924.0" y="709.6" width="5.5" height="16.6" fill="#3d9a35"/>
<rect x="931.0" y="709.6" width="1.1" height="16.6" fill="#eba633"/>
<rect x="940.2" y="709.6" width="1.1" height="16.6" fill="#3d9a35"/>
<rect x="942.8" y="709.6" width="1.1" height="16.6" fill="#3d9a35"/>
<rect x="944.4" y="709.6" width="3.4" height="16.6" fill="#eba633"/>
<rect x="952.0" y="709.6" width="1.1" height="16.6" fill="#3d9a35"/>
<rect x="1002.6" y="709.6" width="1.1" height="16.6" fill="#eba633"/>
<rect x="1009.0" y="709.6" width="3.9" height="16.6" fill="#3d9a35"/>
<rect x="1018.2" y="709.6" width="1.9" height="16.6" fill="#8c5a1c"/>
<rect x="1020.5" y="709.6" width="1.1" height="16.6" fill="#ee3526"/>
<rect x="1023.2" y="709.6" width="1.1" height="16.6" fill="#ee3526"/>
<rect x="1026.2" y="709.6" width="1.5" height="16.6" fill="#8c5a1c"/>
<rect x="1134.9" y="709.6" width="1.1" height="16.6" fill="#eba633"/>
<rect x="1137.2" y="709.6" width="6.1" height="16.6" fill="#3d9a35"/>
<rect x="1153.9" y="709.6" width="1.1" height="16.6" fill="#3d9a35"/>
<rect x="1177.9" y="709.6" width="1.1" height="16.6" fill="#eba633"/>
<rect x="1180.6" y="709.6" width="3.0" height="16.6" fill="#eba633"/>
<rect x="808.9" y="749.2" width="1.1" height="6.4" fill="#000"/>
<rect x="823.3" y="749.9" width="26.1" height="5.0" fill="#000"/>
<rect x="849.4" y="749.9" width="2.4" height="5.0" fill="#000"/>
<rect x="867.4" y="749.2" width="1.1" height="6.4" fill="#000"/>
<rect x="873.4" y="749.9" width="4.9" height="5.0" fill="#000"/>
<rect x="879.9" y="749.9" width="3.1" height="5.0" fill="#000"/>
<rect x="884.3" y="749.9" width="3.2" height="5.0" fill="#000"/>
<rect x="891.5" y="749.9" width="2.8" height="5.0" fill="#000"/>
<rect x="900.7" y="749.2" width="1.1" height="6.4" fill="#000"/>
<rect x="902.7" y="749.2" width="1.2" height="6.4" fill="#000"/>
<rect x="912.8" y="749.9" width="16.8" height="5.0" fill="#000"/>
<rect x="931.2" y="749.9" width="3.2" height="5.0" fill="#000"/>
<rect x="937.7" y="749.9" width="8.8" height="5.0" fill="#000"/>
<rect x="948.9" y="749.9" width="6.0" height="5.0" fill="#000"/>
<rect x="958.9" y="749.9" width="3.2" height="5.0" fill="#000"/>
<rect x="992.6" y="749.2" width="2.0" height="6.4" fill="#000"/>
<rect x="1053.2" y="749.9" width="1.6" height="5.0" fill="#000"/>
<rect x="1058.4" y="749.9" width="2.4" height="5.0" fill="#000"/>
<rect x="1064.0" y="749.9" width="8.9" height="5.0" fill="#000"/>
<rect x="1079.7" y="749.9" width="2.0" height="5.0" fill="#000"/>
<rect x="1091.3" y="749.9" width="6.4" height="5.0" fill="#000"/>
<rect x="1102.6" y="749.9" width="5.6" height="5.0" fill="#000"/>
<rect x="1112.2" y="749.9" width="2.0" height="5.0" fill="#000"/>
<rect x="1119.8" y="749.9" width="6.0" height="5.0" fill="#000"/>
<rect x="1127.4" y="749.9" width="2.8" height="5.0" fill="#000"/>
<rect x="1146.3" y="749.9" width="2.4" height="5.0" fill="#000"/>
<rect x="1160.3" y="749.9" width="1.6" height="5.0" fill="#000"/>
<rect x="930.0" y="744.1" width="1.2" height="16.6" fill="#eba633"/>
<rect x="1009.5" y="744.1" width="2.0" height="16.6" fill="#eba633"/>
<rect x="886.7" y="783.1" width="2.0" height="6.4" fill="#000"/>
<rect x="1109.0" y="783.1" width="1.2" height="6.4" fill="#000"/>
<rect x="794.4" y="778.0" width="2.4" height="16.6" fill="#3d9a35"/>
<rect x="798.4" y="778.0" width="1.2" height="16.6" fill="#eba633"/>
<rect x="812.0" y="778.0" width="4.9" height="16.6" fill="#eba633"/>
<rect x="822.9" y="778.0" width="1.1" height="16.6" fill="#eba633"/>
<rect x="833.3" y="778.0" width="1.1" height="16.6" fill="#eba633"/>
<rect x="868.2" y="778.0" width="1.2" height="16.6" fill="#eba633"/>
<rect x="871.4" y="778.0" width="1.2" height="16.6" fill="#3d9a35"/>
<rect x="884.3" y="778.0" width="1.1" height="16.6" fill="#eba633"/>
<rect x="904.7" y="778.0" width="1.6" height="16.6" fill="#a9ae2c"/>
<rect x="931.2" y="778.0" width="1.6" height="16.6" fill="#eba633"/>
<rect x="979.0" y="778.0" width="1.1" height="16.6" fill="#eba633"/>
<rect x="989.8" y="778.0" width="1.2" height="16.6" fill="#3d9a35"/>
<rect x="996.2" y="778.0" width="4.0" height="16.6" fill="#ee3526"/>
<rect x="1009.0" y="778.0" width="1.1" height="16.6" fill="#ee3526"/>
<rect x="1017.5" y="778.0" width="1.1" height="16.6" fill="#eba633"/>
<rect x="1052.0" y="778.0" width="1.6" height="16.6" fill="#eba633"/>
<rect x="1066.0" y="778.0" width="1.1" height="16.6" fill="#3d9a35"/>
<rect x="1072.0" y="778.0" width="2.1" height="16.6" fill="#3d9a35"/>
<rect x="1074.9" y="778.0" width="1.2" height="16.6" fill="#ee3526"/>
<rect x="1088.9" y="778.0" width="1.1" height="16.6" fill="#ee3526"/>
<rect x="1156.3" y="778.0" width="1.2" height="16.6" fill="#eba633"/>
<rect x="808.0" y="811.9" width="1.3" height="16.6" fill="#eba633"/>
<rect x="813.3" y="811.9" width="1.2" height="16.6" fill="#eba633"/>
<rect x="830.9" y="811.9" width="1.6" height="16.6" fill="#3d9a35"/>
<rect x="840.5" y="811.9" width="1.2" height="16.6" fill="#3d9a35"/>
<rect x="845.0" y="811.9" width="1.2" height="16.6" fill="#eba633"/>
<rect x="846.8" y="811.9" width="1.1" height="16.6" fill="#eba633"/>
<rect x="854.6" y="811.9" width="1.2" height="16.6" fill="#eba633"/>
<rect x="870.2" y="811.9" width="1.1" height="16.6" fill="#eba633"/>
<rect x="874.2" y="811.9" width="1.6" height="16.6" fill="#eba633"/>
<rect x="892.3" y="811.9" width="2.4" height="16.6" fill="#3d9a35"/>
<rect x="901.9" y="811.9" width="1.1" height="16.6" fill="#eba633"/>
<rect x="910.3" y="811.9" width="1.7" height="16.6" fill="#3d9a35"/>
<rect x="912.0" y="811.9" width="2.8" height="16.6" fill="#8c5a1c"/>
<rect x="930.4" y="811.9" width="1.2" height="16.6" fill="#eba633"/>
<rect x="943.3" y="811.9" width="1.6" height="16.6" fill="#3d9a35"/>
<rect x="947.3" y="811.9" width="1.6" height="16.6" fill="#eba633"/>
<rect x="949.7" y="811.9" width="2.0" height="16.6" fill="#eba633"/>
<rect x="951.7" y="811.9" width="1.2" height="16.6" fill="#3d9a35"/>
<rect x="960.1" y="811.9" width="1.6" height="16.6" fill="#eba633"/>
<rect x="970.5" y="811.9" width="2.5" height="16.6" fill="#eba633"/>
<rect x="982.2" y="811.9" width="1.6" height="16.6" fill="#eba633"/>
<rect x="1002.2" y="811.9" width="1.1" height="16.6" fill="#eba633"/>
<rect x="1011.9" y="811.9" width="1.2" height="16.6" fill="#7d2490"/>
<rect x="1050.8" y="811.9" width="1.2" height="16.6" fill="#eba633"/>
<rect x="1064.0" y="811.9" width="2.4" height="16.6" fill="#8c5a1c"/>
<rect x="1072.0" y="811.9" width="1.1" height="16.6" fill="#eba633"/>
<rect x="1074.9" y="811.9" width="1.1" height="16.6" fill="#eba633"/>
<rect x="1082.1" y="811.9" width="2.0" height="16.6" fill="#3d9a35"/>
<rect x="1098.1" y="811.9" width="1.6" height="16.6" fill="#7d2490"/>
<rect x="1100.1" y="811.9" width="1.2" height="16.6" fill="#eba633"/>
<rect x="1102.2" y="811.9" width="1.6" height="16.6" fill="#7d2490"/>
<rect x="1122.2" y="811.9" width="1.1" height="16.6" fill="#eba633"/>
<rect x="1125.4" y="811.9" width="3.2" height="16.6" fill="#a9ae2c"/>
<rect x="1139.5" y="811.9" width="1.2" height="16.6" fill="#7cc46c"/>
<rect x="1145.5" y="811.9" width="3.2" height="16.6" fill="#7d2490"/>
<rect x="1149.1" y="811.9" width="1.6" height="16.6" fill="#eba633"/>
<rect x="1162.3" y="811.9" width="3.2" height="16.6" fill="#eba633"/>
<rect x="1168.0" y="811.9" width="2.3" height="16.6" fill="#7d2490"/>
<rect x="1177.2" y="811.9" width="1.1" height="16.6" fill="#3d9a35"/>
<rect x="844.2" y="862.0" width="6.4" height="5.0" fill="#000"/>
<rect x="870.5" y="862.0" width="3.3" height="5.0" fill="#000"/>
<rect x="877.2" y="862.0" width="14.4" height="5.0" fill="#000"/>
<rect x="895.0" y="862.0" width="12.3" height="5.0" fill="#000"/>
<rect x="913.2" y="862.0" width="16.5" height="5.0" fill="#000"/>
<rect x="935.2" y="862.0" width="31.0" height="5.0" fill="#000"/>
<rect x="976.3" y="862.0" width="29.2" height="5.0" fill="#000"/>
<rect x="1010.6" y="862.0" width="1.7" height="5.0" fill="#000"/>
<rect x="1013.6" y="862.0" width="41.5" height="5.0" fill="#000"/>
<rect x="1058.0" y="862.0" width="1.7" height="5.0" fill="#000"/>
<rect x="1067.4" y="862.0" width="38.5" height="5.0" fill="#000"/>
<rect x="1107.2" y="862.0" width="80.0" height="5.0" fill="#000"/>
<rect x="814.6" y="856.2" width="1.2" height="16.6" fill="#3d9a35"/>
<rect x="822.2" y="856.2" width="1.1" height="16.6" fill="#3d9a35"/>
<rect x="824.3" y="856.2" width="1.3" height="16.6" fill="#eba633"/>
<rect x="834.0" y="856.2" width="1.1" height="16.6" fill="#3d9a35"/>
<rect x="842.1" y="856.2" width="1.7" height="16.6" fill="#3d9a35"/>
<rect x="847.6" y="856.2" width="1.1" height="16.6" fill="#3d9a35"/>
<rect x="851.0" y="856.2" width="1.7" height="16.6" fill="#eba633"/>
<rect x="852.7" y="856.2" width="2.1" height="16.6" fill="#3d9a35"/>
<rect x="856.5" y="856.2" width="1.1" height="16.6" fill="#3d9a35"/>
<rect x="843.4" y="896.7" width="2.1" height="5.0" fill="#000"/>
<rect x="849.3" y="896.7" width="9.3" height="5.0" fill="#000"/>
<rect x="864.5" y="896.7" width="2.6" height="5.0" fill="#000"/>
<rect x="884.0" y="896.7" width="30.5" height="5.0" fill="#000"/>
<rect x="920.9" y="896.7" width="5.9" height="5.0" fill="#000"/>
<rect x="930.2" y="896.7" width="21.6" height="5.0" fill="#000"/>
<rect x="955.1" y="896.7" width="8.5" height="5.0" fill="#000"/>
<rect x="967.0" y="896.7" width="21.6" height="5.0" fill="#000"/>
<rect x="990.7" y="896.7" width="31.8" height="5.0" fill="#000"/>
<rect x="1024.6" y="896.7" width="17.4" height="5.0" fill="#000"/>
<rect x="1043.7" y="896.7" width="16.9" height="5.0" fill="#000"/>
<rect x="1087.3" y="896.7" width="5.9" height="5.0" fill="#000"/>
<rect x="1096.2" y="896.7" width="10.5" height="5.0" fill="#000"/>
<rect x="1110.1" y="896.7" width="30.5" height="5.0" fill="#000"/>
<rect x="1144.0" y="896.7" width="2.6" height="5.0" fill="#000"/>
<rect x="1149.1" y="896.7" width="22.4" height="5.0" fill="#000"/>
<rect x="1174.5" y="896.7" width="8.5" height="5.0" fill="#000"/>
<rect x="1186.0" y="896.7" width="1.2" height="5.0" fill="#000"/>
<rect x="826.8" y="890.9" width="1.1" height="16.6" fill="#eba633"/>
<rect x="829.8" y="890.9" width="1.3" height="16.6" fill="#3d9a35"/>
<rect x="834.9" y="890.9" width="1.1" height="16.6" fill="#eba633"/>
<rect x="859.9" y="890.9" width="1.1" height="16.6" fill="#eba633"/>
<rect x="872.2" y="890.9" width="2.5" height="16.6" fill="#a9ae2c"/>
<rect x="1080.5" y="890.9" width="1.3" height="16.6" fill="#ee3526"/>
<rect x="849.3" y="930.9" width="1.7" height="5.0" fill="#000"/>
<rect x="866.6" y="930.9" width="3.4" height="5.0" fill="#000"/>
<rect x="899.3" y="930.9" width="3.3" height="5.0" fill="#000"/>
<rect x="905.6" y="930.9" width="1.7" height="5.0" fill="#000"/>
<rect x="912.0" y="930.9" width="8.4" height="5.0" fill="#000"/>
<rect x="923.4" y="930.9" width="2.5" height="5.0" fill="#000"/>
<rect x="935.2" y="930.9" width="3.4" height="5.0" fill="#000"/>
<rect x="955.6" y="930.9" width="8.0" height="5.0" fill="#000"/>
<rect x="972.1" y="930.9" width="6.3" height="5.0" fill="#000"/>
<rect x="981.8" y="930.9" width="22.9" height="5.0" fill="#000"/>
<rect x="1023.3" y="930.9" width="3.4" height="5.0" fill="#000"/>
<rect x="1030.1" y="930.9" width="10.2" height="5.0" fill="#000"/>
<rect x="1042.0" y="930.9" width="3.4" height="5.0" fill="#000"/>
<rect x="1047.0" y="930.9" width="4.3" height="5.0" fill="#000"/>
<rect x="1054.2" y="930.9" width="2.6" height="5.0" fill="#000"/>
<rect x="1059.3" y="930.9" width="10.2" height="5.0" fill="#000"/>
<rect x="1074.6" y="930.9" width="3.4" height="5.0" fill="#000"/>
<rect x="1080.9" y="930.9" width="6.8" height="5.0" fill="#000"/>
<rect x="1092.3" y="930.9" width="1.7" height="5.0" fill="#000"/>
<rect x="1097.4" y="930.9" width="4.7" height="5.0" fill="#000"/>
<rect x="1124.5" y="930.9" width="4.7" height="5.0" fill="#000"/>
<rect x="1130.9" y="930.9" width="2.9" height="5.0" fill="#000"/>
<rect x="1141.5" y="930.9" width="12.3" height="5.0" fill="#000"/>
<rect x="1156.7" y="930.9" width="4.3" height="5.0" fill="#000"/>
<rect x="1167.3" y="930.9" width="2.1" height="5.0" fill="#000"/>
<rect x="1172.0" y="930.9" width="3.8" height="5.0" fill="#000"/>
<rect x="806.1" y="925.1" width="1.3" height="16.6" fill="#eba633"/>
<rect x="815.0" y="925.1" width="3.4" height="16.6" fill="#3d9a35"/>
<rect x="822.2" y="925.1" width="1.7" height="16.6" fill="#3d9a35"/>
<rect x="823.9" y="925.1" width="1.4" height="16.6" fill="#eba633"/>
<rect x="825.3" y="925.1" width="1.1" height="16.6" fill="#f2d49a"/>
<rect x="826.2" y="925.1" width="2.2" height="16.6" fill="#eba633"/>
<rect x="828.4" y="925.1" width="1.1" height="16.6" fill="#f2d49a"/>
<rect x="829.2" y="925.1" width="3.2" height="16.6" fill="#eba633"/>
<rect x="832.4" y="925.1" width="1.1" height="16.6" fill="#f2d49a"/>
<rect x="833.1" y="925.1" width="3.1" height="16.6" fill="#eba633"/>
<rect x="838.3" y="925.1" width="1.2" height="16.6" fill="#eba633"/>
<rect x="844.6" y="925.1" width="1.1" height="16.6" fill="#eba633"/>
<rect x="857.3" y="925.1" width="1.3" height="16.6" fill="#3d9a35"/>
<rect x="870.9" y="925.1" width="1.7" height="16.6" fill="#7cc46c"/>
<rect x="875.1" y="925.1" width="1.3" height="16.6" fill="#eba633"/>
<rect x="888.7" y="925.1" width="2.1" height="16.6" fill="#3d9a35"/>
<rect x="895.4" y="925.1" width="1.1" height="16.6" fill="#3d9a35"/>
<rect x="896.4" y="925.1" width="2.4" height="16.6" fill="#eba633"/>
<rect x="902.6" y="925.1" width="1.1" height="16.6" fill="#eba633"/>
<rect x="836.3" y="965.1" width="1.8" height="5.0" fill="#000"/>
<rect x="863.5" y="965.1" width="2.2" height="5.0" fill="#000"/>
<rect x="900.1" y="965.1" width="2.6" height="5.0" fill="#000"/>
<rect x="920.9" y="965.1" width="4.6" height="5.0" fill="#000"/>
<rect x="949.4" y="965.1" width="7.1" height="5.0" fill="#000"/>
<rect x="972.6" y="965.1" width="3.5" height="5.0" fill="#000"/>
<rect x="979.3" y="965.1" width="2.6" height="5.0" fill="#000"/>
<rect x="985.5" y="965.1" width="2.7" height="5.0" fill="#000"/>
<rect x="992.2" y="965.1" width="2.2" height="5.0" fill="#000"/>
<rect x="1002.9" y="965.1" width="3.5" height="5.0" fill="#000"/>
<rect x="1010.9" y="965.1" width="8.0" height="5.0" fill="#000"/>
<rect x="1037.2" y="965.1" width="5.3" height="5.0" fill="#000"/>
<rect x="1048.8" y="965.1" width="14.6" height="5.0" fill="#000"/>
<rect x="1067.8" y="965.1" width="8.9" height="5.0" fill="#000"/>
<rect x="1078.5" y="965.1" width="2.2" height="5.0" fill="#000"/>
<rect x="1083.0" y="965.1" width="1.8" height="5.0" fill="#000"/>
<rect x="1087.9" y="965.1" width="4.0" height="5.0" fill="#000"/>
<rect x="1097.2" y="965.1" width="4.5" height="5.0" fill="#000"/>
<rect x="1105.7" y="965.1" width="11.1" height="5.0" fill="#000"/>
<rect x="1126.2" y="965.1" width="19.6" height="5.0" fill="#000"/>
<rect x="1148.9" y="965.1" width="5.8" height="5.0" fill="#000"/>
<rect x="1163.2" y="965.1" width="2.7" height="5.0" fill="#000"/>
<rect x="1180.6" y="965.1" width="3.1" height="5.0" fill="#000"/>
<rect x="881.8" y="959.3" width="1.3" height="16.6" fill="#3d9a35"/>
<rect x="890.7" y="959.3" width="1.3" height="16.6" fill="#3d9a35"/>
<rect x="1184.1" y="959.3" width="1.8" height="16.6" fill="#eba633"/>
<rect x="837.2" y="999.8" width="1.8" height="5.0" fill="#000"/>
<rect x="844.4" y="999.8" width="11.6" height="5.0" fill="#000"/>
<rect x="860.8" y="999.8" width="16.5" height="5.0" fill="#000"/>
<rect x="881.3" y="999.8" width="9.4" height="5.0" fill="#000"/>
<rect x="900.5" y="999.8" width="24.8" height="5.0" fill="#000"/>
<rect x="928.5" y="999.8" width="49.9" height="5.0" fill="#000"/>
<rect x="981.5" y="999.8" width="4.5" height="5.0" fill="#000"/>
<rect x="987.7" y="999.8" width="8.9" height="5.0" fill="#000"/>
<rect x="998.0" y="999.8" width="12.9" height="5.0" fill="#000"/>
<rect x="1013.1" y="999.8" width="24.5" height="5.0" fill="#000"/>
<rect x="1039.4" y="999.8" width="10.7" height="5.0" fill="#000"/>
<rect x="1054.1" y="999.8" width="2.7" height="5.0" fill="#000"/>
<rect x="898.7" y="994.0" width="1.4" height="16.6" fill="#7d2490"/>
<rect x="1087.4" y="994.0" width="1.1" height="16.6" fill="#808080"/>
<rect x="1127.1" y="994.0" width="1.1" height="16.6" fill="#3d9a35"/>
<rect x="1146.7" y="994.0" width="1.3" height="16.6" fill="#3d9a35"/>
<rect x="1148.9" y="994.0" width="2.7" height="16.6" fill="#a9ae2c"/>
<rect x="1151.6" y="994.0" width="3.6" height="16.6" fill="#9a3a14"/>
<rect x="1159.6" y="994.0" width="1.4" height="16.6" fill="#3d9a35"/>
<rect x="810.0" y="1033.0" width="1.1" height="6.4" fill="#000"/>
<rect x="824.8" y="1033.7" width="1.7" height="5.0" fill="#000"/>
<rect x="889.8" y="1033.7" width="6.2" height="5.0" fill="#000"/>
<rect x="897.8" y="1033.7" width="1.8" height="5.0" fill="#000"/>
<rect x="904.0" y="1033.7" width="5.4" height="5.0" fill="#000"/>
<rect x="924.6" y="1033.7" width="1.8" height="5.0" fill="#000"/>
<rect x="931.1" y="1033.7" width="2.3" height="5.0" fill="#000"/>
<rect x="945.4" y="1033.7" width="5.8" height="5.0" fill="#000"/>
<rect x="968.6" y="1033.7" width="2.6" height="5.0" fill="#000"/>
<rect x="974.8" y="1033.7" width="2.2" height="5.0" fill="#000"/>
<rect x="988.2" y="1033.7" width="8.4" height="5.0" fill="#000"/>
<rect x="1006.9" y="1033.7" width="6.7" height="5.0" fill="#000"/>
<rect x="1017.1" y="1033.7" width="2.3" height="5.0" fill="#000"/>
<rect x="1025.6" y="1033.7" width="5.8" height="5.0" fill="#000"/>
<rect x="1085.2" y="1033.7" width="3.1" height="5.0" fill="#000"/>
<rect x="1097.7" y="1033.7" width="8.9" height="5.0" fill="#000"/>
<rect x="1126.6" y="1033.7" width="2.3" height="5.0" fill="#000"/>
<rect x="1134.2" y="1033.7" width="4.0" height="5.0" fill="#000"/>
<line x1="794.40" y1="717.90" x2="1187.20" y2="717.90" stroke="#111" stroke-width="1.3" stroke-dasharray="2.7 3.5"/>
<line x1="794.40" y1="752.40" x2="1187.20" y2="752.40" stroke="#111" stroke-width="1.3" stroke-dasharray="2.7 3.5"/>
<line x1="794.40" y1="786.30" x2="1187.20" y2="786.30" stroke="#111" stroke-width="1.3" stroke-dasharray="2.7 3.5"/>
<line x1="794.40" y1="820.20" x2="1187.20" y2="820.20" stroke="#111" stroke-width="1.3" stroke-dasharray="2.7 3.5"/>
<line x1="794.40" y1="899.20" x2="1187.20" y2="899.20" stroke="#111" stroke-width="1.3" stroke-dasharray="2.7 3.5"/>
<line x1="794.40" y1="933.40" x2="1187.20" y2="933.40" stroke="#111" stroke-width="1.3" stroke-dasharray="2.7 3.5"/>
<line x1="794.40" y1="967.60" x2="1187.20" y2="967.60" stroke="#111" stroke-width="1.3" stroke-dasharray="2.7 3.5"/>
<line x1="794.40" y1="1002.30" x2="1187.20" y2="1002.30" stroke="#111" stroke-width="1.3" stroke-dasharray="2.7 3.5"/>
<line x1="794.40" y1="1036.20" x2="1187.20" y2="1036.20" stroke="#111" stroke-width="1.3" stroke-dasharray="2.7 3.5"/>
<line x1="794.40" y1="684.00" x2="796.90" y2="684.00" stroke="#222" stroke-width="1.3"/>
<line x1="1184.70" y1="684.00" x2="1187.20" y2="684.00" stroke="#222" stroke-width="1.3"/>
<line x1="794.40" y1="717.90" x2="796.90" y2="717.90" stroke="#222" stroke-width="1.3"/>
<line x1="1184.70" y1="717.90" x2="1187.20" y2="717.90" stroke="#222" stroke-width="1.3"/>
<line x1="794.40" y1="752.40" x2="796.90" y2="752.40" stroke="#222" stroke-width="1.3"/>
<line x1="1184.70" y1="752.40" x2="1187.20" y2="752.40" stroke="#222" stroke-width="1.3"/>
<line x1="794.40" y1="786.30" x2="796.90" y2="786.30" stroke="#222" stroke-width="1.3"/>
<line x1="1184.70" y1="786.30" x2="1187.20" y2="786.30" stroke="#222" stroke-width="1.3"/>
<line x1="794.40" y1="820.20" x2="796.90" y2="820.20" stroke="#222" stroke-width="1.3"/>
<line x1="1184.70" y1="820.20" x2="1187.20" y2="820.20" stroke="#222" stroke-width="1.3"/>
<line x1="794.40" y1="864.50" x2="796.90" y2="864.50" stroke="#222" stroke-width="1.3"/>
<line x1="1184.70" y1="864.50" x2="1187.20" y2="864.50" stroke="#222" stroke-width="1.3"/>
<line x1="794.40" y1="899.20" x2="796.90" y2="899.20" stroke="#222" stroke-width="1.3"/>
<line x1="1184.70" y1="899.20" x2="1187.20" y2="899.20" stroke="#222" stroke-width="1.3"/>
<line x1="794.40" y1="933.40" x2="796.90" y2="933.40" stroke="#222" stroke-width="1.3"/>
<line x1="1184.70" y1="933.40" x2="1187.20" y2="933.40" stroke="#222" stroke-width="1.3"/>
<line x1="794.40" y1="967.60" x2="796.90" y2="967.60" stroke="#222" stroke-width="1.3"/>
<line x1="1184.70" y1="967.60" x2="1187.20" y2="967.60" stroke="#222" stroke-width="1.3"/>
<line x1="794.40" y1="1002.30" x2="796.90" y2="1002.30" stroke="#222" stroke-width="1.3"/>
<line x1="1184.70" y1="1002.30" x2="1187.20" y2="1002.30" stroke="#222" stroke-width="1.3"/>
<line x1="794.40" y1="1036.20" x2="796.90" y2="1036.20" stroke="#222" stroke-width="1.3"/>
<line x1="1184.70" y1="1036.20" x2="1187.20" y2="1036.20" stroke="#222" stroke-width="1.3"/>
<rect x="794.40" y="671.40" width="392.80" height="377.80" fill="none" stroke="#222" stroke-width="1.5"/>
<line x1="794.40" y1="842.30" x2="1187.20" y2="842.30" stroke="#222" stroke-width="1.5"/>
<line x1="925.40" y1="671.40" x2="925.40" y2="1054.20" stroke="#222" stroke-width="1.3"/>
<line x1="1056.70" y1="671.40" x2="1056.70" y2="1054.20" stroke="#222" stroke-width="1.3"/>
<line x1="794.40" y1="1049.20" x2="794.40" y2="1054.20" stroke="#222" stroke-width="1.3"/>
<line x1="1187.20" y1="1049.20" x2="1187.20" y2="1054.20" stroke="#222" stroke-width="1.3"/>
<line x1="820.59" y1="1049.20" x2="820.59" y2="1051.70" stroke="#333" stroke-width="1.1"/>
<line x1="846.77" y1="1049.20" x2="846.77" y2="1051.70" stroke="#333" stroke-width="1.1"/>
<line x1="872.96" y1="1049.20" x2="872.96" y2="1051.70" stroke="#333" stroke-width="1.1"/>
<line x1="899.15" y1="1049.20" x2="899.15" y2="1051.70" stroke="#333" stroke-width="1.1"/>
<line x1="951.52" y1="1049.20" x2="951.52" y2="1051.70" stroke="#333" stroke-width="1.1"/>
<line x1="977.71" y1="1049.20" x2="977.71" y2="1051.70" stroke="#333" stroke-width="1.1"/>
<line x1="1003.89" y1="1049.20" x2="1003.89" y2="1051.70" stroke="#333" stroke-width="1.1"/>
<line x1="1030.08" y1="1049.20" x2="1030.08" y2="1051.70" stroke="#333" stroke-width="1.1"/>
<line x1="1082.45" y1="1049.20" x2="1082.45" y2="1051.70" stroke="#333" stroke-width="1.1"/>
<line x1="1108.64" y1="1049.20" x2="1108.64" y2="1051.70" stroke="#333" stroke-width="1.1"/>
<line x1="1134.83" y1="1049.20" x2="1134.83" y2="1051.70" stroke="#333" stroke-width="1.1"/>
<line x1="1161.01" y1="1049.20" x2="1161.01" y2="1051.70" stroke="#333" stroke-width="1.1"/>
<text transform="translate(824.95 653.65) scale(1 0.970)" font-size="25.11">Responses to facial injection</text>
<text transform="translate(779.70 833.29) rotate(-90) scale(1 1.025)" font-size="25.07">Control (PBS)</text>
<text transform="translate(779.03 1047.02) rotate(-90) scale(1 1.015)" font-size="24.99">PGE2-right cheek</text>
<text transform="translate(789.08 1072.40) scale(1 1.040)" font-size="20.80">0</text>
<text transform="translate(919.62 1072.42) scale(1 1.040)" font-size="20.80">5</text>
<text transform="translate(1045.15 1072.40) scale(1 1.040)" font-size="20.80">10</text>
<text transform="translate(1176.14 1072.40) scale(1 1.040)" font-size="20.80">15</text>
<text transform="translate(919.77 1106.80) scale(1 0.970)" font-size="25.19">Time (minutes)</text>
<text transform="translate(1239.08 686.58) scale(1 0.988)" font-size="21.14">Groom</text>
<text transform="translate(1238.47 712.15) scale(1 0.970)" font-size="21.08">Right wipe</text>
<text transform="translate(1238.51 738.15) scale(1 0.970)" font-size="21.12">Left wipe</text>
<text transform="translate(1238.78 763.77) scale(1 0.970)" font-size="21.05">Right scratch</text>
<text transform="translate(1238.79 789.25) scale(1 0.970)" font-size="21.10">Left scratch</text>
<text transform="translate(1238.55 826.10) scale(1 0.970)" font-size="21.00">Inactivity</text>
<rect x="1211.00" y="674.10" width="17.90" height="13.70" fill="#e8a22c"/>
<rect x="1211.00" y="700.20" width="17.90" height="12.70" fill="#2f8c3c"/>
<rect x="1211.00" y="725.00" width="17.90" height="13.80" fill="#ee2424"/>
<rect x="1211.00" y="751.00" width="17.90" height="13.00" fill="#7a2a8e"/>
<rect x="1211.00" y="776.70" width="17.90" height="13.00" fill="#8e8e8e"/>
<rect x="1211.00" y="818.00" width="17.90" height="4.90" fill="#000"/>
<rect x="1476.60" y="868.47" width="30.90" height="157.13" fill="#d6d6d6" stroke="#666" stroke-width="1.2"/>
<line x1="1492.05" y1="868.47" x2="1492.05" y2="819.99" stroke="#000" stroke-width="1.2"/>
<line x1="1484.05" y1="819.99" x2="1500.05" y2="819.99" stroke="#000" stroke-width="1.2"/>
<circle cx="1492.0" cy="758.1" r="1.7" fill="#111"/>
<circle cx="1492.0" cy="793.8" r="1.7" fill="#111"/>
<circle cx="1492.0" cy="827.2" r="1.7" fill="#111"/>
<circle cx="1492.0" cy="949.8" r="1.7" fill="#111"/>
<circle cx="1492.0" cy="1010.6" r="1.7" fill="#111"/>
<rect x="1521.40" y="1015.01" width="30.10" height="10.59" fill="#f03c44" stroke="#222" stroke-width="1.2"/>
<line x1="1536.45" y1="1015.01" x2="1536.45" y2="1004.43" stroke="#000" stroke-width="1.2"/>
<line x1="1529.95" y1="1004.43" x2="1542.95" y2="1004.43" stroke="#000" stroke-width="1.2"/>
<circle cx="1536.5" cy="964.3" r="1.7" fill="#111"/>
<circle cx="1528.5" cy="1022.3" r="1.7" fill="#111"/>
<circle cx="1536.5" cy="1023.9" r="1.7" fill="#111"/>
<circle cx="1545.5" cy="1023.9" r="1.7" fill="#111"/>
<line x1="1462.80" y1="687.20" x2="1462.80" y2="1028.60" stroke="#000" stroke-width="1.9"/>
<line x1="1457.90" y1="1025.60" x2="1558.70" y2="1025.60" stroke="#000" stroke-width="1.9"/>
<line x1="1456.30" y1="1025.60" x2="1462.80" y2="1025.60" stroke="#000" stroke-width="1.9"/>
<line x1="1456.30" y1="914.16" x2="1462.80" y2="914.16" stroke="#000" stroke-width="1.9"/>
<line x1="1456.30" y1="802.72" x2="1462.80" y2="802.72" stroke="#000" stroke-width="1.9"/>
<line x1="1456.30" y1="691.28" x2="1462.80" y2="691.28" stroke="#000" stroke-width="1.9"/>
<rect x="1708.40" y="1006.36" width="29.60" height="18.64" fill="#d6d6d6" stroke="#666" stroke-width="1.2"/>
<line x1="1723.20" y1="1006.36" x2="1723.20" y2="966.21" stroke="#000" stroke-width="1.2"/>
<line x1="1715.20" y1="966.21" x2="1731.20" y2="966.21" stroke="#000" stroke-width="1.2"/>
<circle cx="1723.2" cy="935.4" r="1.7" fill="#111"/>
<circle cx="1715.2" cy="1023.9" r="1.7" fill="#111"/>
<circle cx="1723.2" cy="1023.9" r="1.7" fill="#111"/>
<circle cx="1731.2" cy="1023.9" r="1.7" fill="#111"/>
<rect x="1752.50" y="835.00" width="29.00" height="190.00" fill="#f03c44" stroke="#222" stroke-width="1.2"/>
<line x1="1767.00" y1="835.00" x2="1767.00" y2="736.05" stroke="#000" stroke-width="1.2"/>
<line x1="1759.50" y1="736.05" x2="1774.50" y2="736.05" stroke="#000" stroke-width="1.2"/>
<circle cx="1767.0" cy="698.8" r="1.7" fill="#111"/>
<circle cx="1767.0" cy="735.3" r="1.7" fill="#111"/>
<circle cx="1762.0" cy="866.5" r="1.7" fill="#111"/>
<circle cx="1772.0" cy="866.5" r="1.7" fill="#111"/>
<circle cx="1767.0" cy="878.0" r="1.7" fill="#111"/>
<circle cx="1767.0" cy="964.8" r="1.7" fill="#111"/>
<line x1="1697.60" y1="681.00" x2="1697.60" y2="1028.00" stroke="#000" stroke-width="1.9"/>
<line x1="1692.50" y1="1025.00" x2="1790.20" y2="1025.00" stroke="#000" stroke-width="1.9"/>
<line x1="1693.10" y1="1025.00" x2="1697.60" y2="1025.00" stroke="#000" stroke-width="1.9"/>
<line x1="1693.10" y1="881.60" x2="1697.60" y2="881.60" stroke="#000" stroke-width="1.9"/>
<line x1="1693.10" y1="738.20" x2="1697.60" y2="738.20" stroke="#000" stroke-width="1.9"/>
<text transform="translate(1520.38 674.01) scale(1 1.050)" font-size="24.34" stroke="#000" stroke-width="0.45" stroke-linejoin="round">*</text>
<text transform="translate(1744.83 674.06) scale(1 1.050)" font-size="24.33" stroke="#000" stroke-width="0.45" stroke-linejoin="round">*</text>
<text transform="translate(1407.35 1013.12) rotate(-90) scale(1 0.970)" font-size="25.26">Face directed behaviors (s)</text>
<text transform="translate(1634.27 918.07) rotate(-90) scale(1 0.970)" font-size="25.69">Inactivity (s)</text>
<text transform="translate(1428.08 699.56) scale(1 1.040)" font-size="20.80">60</text>
<text transform="translate(1428.08 812.09) scale(1 1.040)" font-size="20.80">40</text>
<text transform="translate(1428.08 924.52) scale(1 1.040)" font-size="20.80">20</text>
<text transform="translate(1439.90 1034.00) scale(1 1.040)" font-size="20.80">0</text>
<text transform="translate(1655.23 745.94) scale(1 1.040)" font-size="20.80">400</text>
<text transform="translate(1654.93 889.97) scale(1 1.040)" font-size="20.80">200</text>
<text transform="translate(1676.50 1033.10) scale(1 1.040)" font-size="20.80">0</text>
<text transform="translate(1468.16 1043.94) rotate(45) scale(1 1.050)" font-size="23.35">PBS</text>
<text transform="translate(1524.20 1044.21) rotate(45) scale(1 1.050)" font-size="23.36">PGE2</text>
<text transform="translate(1703.16 1043.94) rotate(45) scale(1 1.050)" font-size="23.35">PBS</text>
<text transform="translate(1759.12 1044.02) rotate(45) scale(1 1.050)" font-size="23.39">PGE2</text>
</svg>
</body></html>
